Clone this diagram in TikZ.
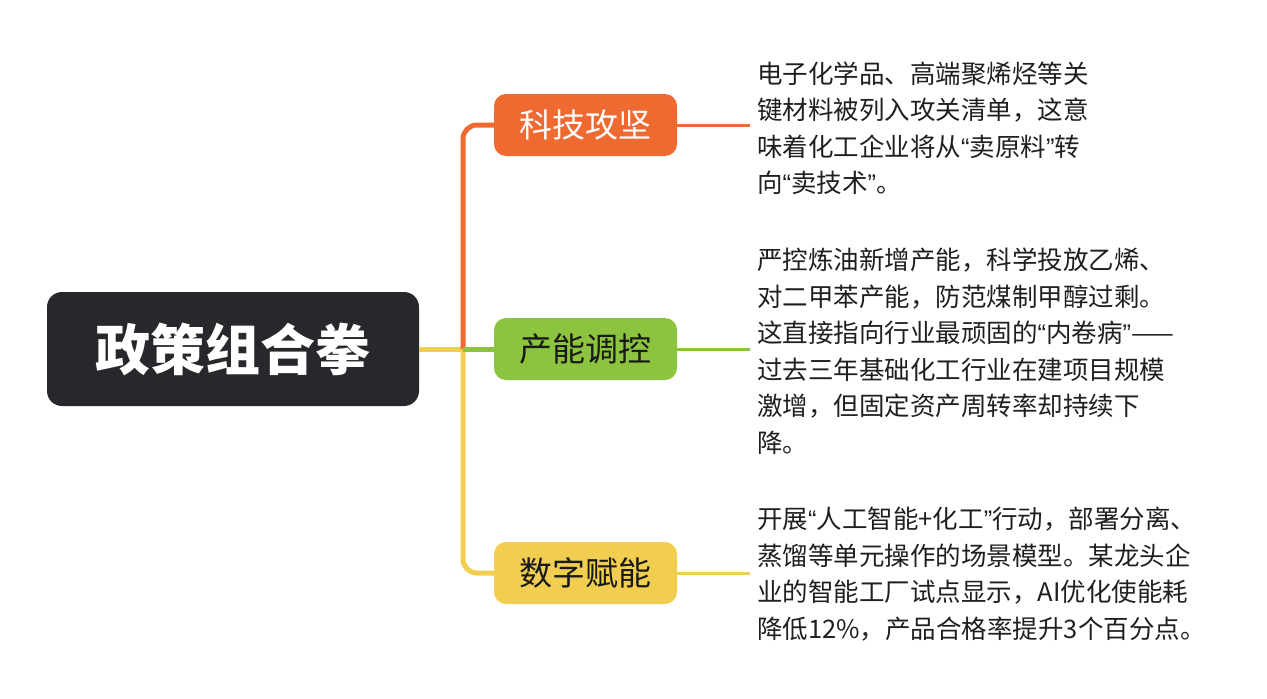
\documentclass[tikz,border=0pt]{standalone}
\usepackage{fontspec}
\setmainfont{Noto Sans CJK SC}
\newfontfamily\qfont{Liberation Sans}
\newcommand\qlq{{\qfont “}}
\newcommand\qrq{{\qfont ”}}
\usepackage{xcolor}
\definecolor{rootc}{HTML}{27282C}
\definecolor{kjc}{HTML}{EE6A30}
\definecolor{cnc}{HTML}{8DC43F}
\definecolor{szc}{HTML}{F2CE50}
\begin{document}
\begin{tikzpicture}[x=1pt,y=-1pt,
  gen/.style={rounded corners=12pt,minimum width=183pt,minimum height=62pt,inner sep=0pt,font=\fontsize{33}{33}\selectfont},
  txt/.style={anchor=west,align=left,inner sep=0pt,font=\fontsize{25.5}{36.5}\selectfont,text=black!88}]
\useasboundingbox (0,0) rectangle (1267,699);

\node[fill=rootc,text=white,rounded corners=15pt,minimum width=372pt,minimum height=114pt,inner sep=0pt,font=\fontsize{55}{55}\selectfont\bfseries] (root) at (233,349) {政策组合拳};
\node[gen,fill=kjc,text=white] (kj) at (585.5,125) {科技攻坚};
\node[gen,fill=cnc,text=black!90] (cn) at (585.5,349) {产能调控};
\node[gen,fill=szc,text=black!90] (sz) at (585.5,573) {数字赋能};

\coordinate (j) at (463,349);
\coordinate (kje) at (750,125);
\coordinate (cne) at (750,349);
\coordinate (sze) at (750,573);

\draw[szc,line width=5pt] (root.east) -- (j);
\draw[szc,line width=5pt,rounded corners=14pt] (j) |- (sz.west);
\draw[kjc,line width=5pt,rounded corners=14pt] (j) |- (kj.west);
\draw[cnc,line width=5pt] (j) -- (cn.west);

\draw[kjc,line width=3pt] (kj.east) -- (kje);
\draw[cnc,line width=3pt] (cn.east) -- (cne);
\draw[szc,line width=3pt] (sz.east) -- (sze);

\node[txt] (t1) at (757,128) {电子化学品、高端聚烯烃等关\\键材料被列入攻关清单，这意\\味着化工企业将从\qlq 卖原料\qrq 转\\向\qlq 卖技术\qrq 。};
\node[txt] (t2) at (757,351) {严控炼油新增产能，科学投放乙烯、\\对二甲苯产能，防范煤制甲醇过剩。\\这直接指向行业最顽固的\qlq 内卷病\qrq ——\\过去三年基础化工行业在建项目规模\\激增，但固定资产周转率却持续下\\降。};
\node[txt] (t3) at (757,574) {开展\qlq 人工智能+化工\qrq 行动，部署分离、\\蒸馏等单元操作的场景模型。某龙头企\\业的智能工厂试点显示，AI优化使能耗\\降低12\%，产品合格率提升3个百分点。};
\end{tikzpicture}
\end{document}
